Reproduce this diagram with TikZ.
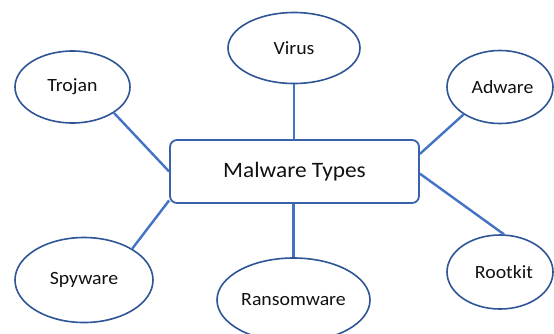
\documentclass[tikz,border=0pt]{standalone}
\usepackage{fontspec}
\setmainfont{Carlito}[FakeStretch=1.06]
\usetikzlibrary{shapes.geometric}
\definecolor{ellblue}{HTML}{2F5597}
\definecolor{lineblue}{HTML}{4472C4}
\definecolor{boxblue}{HTML}{3A62AA}
\definecolor{txt}{HTML}{111111}
\tikzset{
  kind/.style={ellipse, draw=ellblue, line width=1.6pt, fill=white, inner sep=0pt,
    text=txt, font=\fontsize{18.7}{22}\selectfont},
  hub/.style={rectangle, rounded corners=7pt, draw=boxblue, line width=1.8pt, fill=white,
    inner sep=0pt, minimum width=249pt, minimum height=63pt, text=txt,
    font=\fontsize{22}{26}\selectfont},
  link/.style={draw=lineblue, line width=2.4pt}
}
\begin{document}
\begin{tikzpicture}[x=1pt,y=-1pt]
\useasboundingbox (0,0) rectangle (554,333);
\clip (0,0) rectangle (554,333);
\fill[white] (0,0) rectangle (554,333);
\node[hub] (main) at (294.5,171.5) {Malware Types};
\node[kind, minimum width=115pt, minimum height=72pt] (trojan) at (72.5,87) {Trojan};
\node[kind, minimum width=132pt, minimum height=71pt] (virus) at (294,48) {Virus};
\node[kind, minimum width=106pt, minimum height=73pt] (adware) at (500,87) {\hspace{5pt}Adware};
\node[kind, minimum width=138pt, minimum height=85pt] (spyware) at (84,280) {Spyware};
\node[kind, minimum width=153pt, minimum height=84pt] (ransom) at (293.5,300) {Ransomware};
\node[kind, minimum width=106pt, minimum height=74pt] (rootkit) at (500,272) {\hspace{8pt}Rootkit};
\draw[link] (trojan.-32) -- (main.west);
\draw[link] (virus.south) -- (virus.south |- main.north);
\draw[link] (adware.217) -- (main.8.5);
\draw[link] (spyware.33) -- (main.193);
\draw[link] (ransom.north) -- (ransom.north |- main.south);
\draw[link] (rootkit.84) -- (main.-1);
\end{tikzpicture}
\end{document}
